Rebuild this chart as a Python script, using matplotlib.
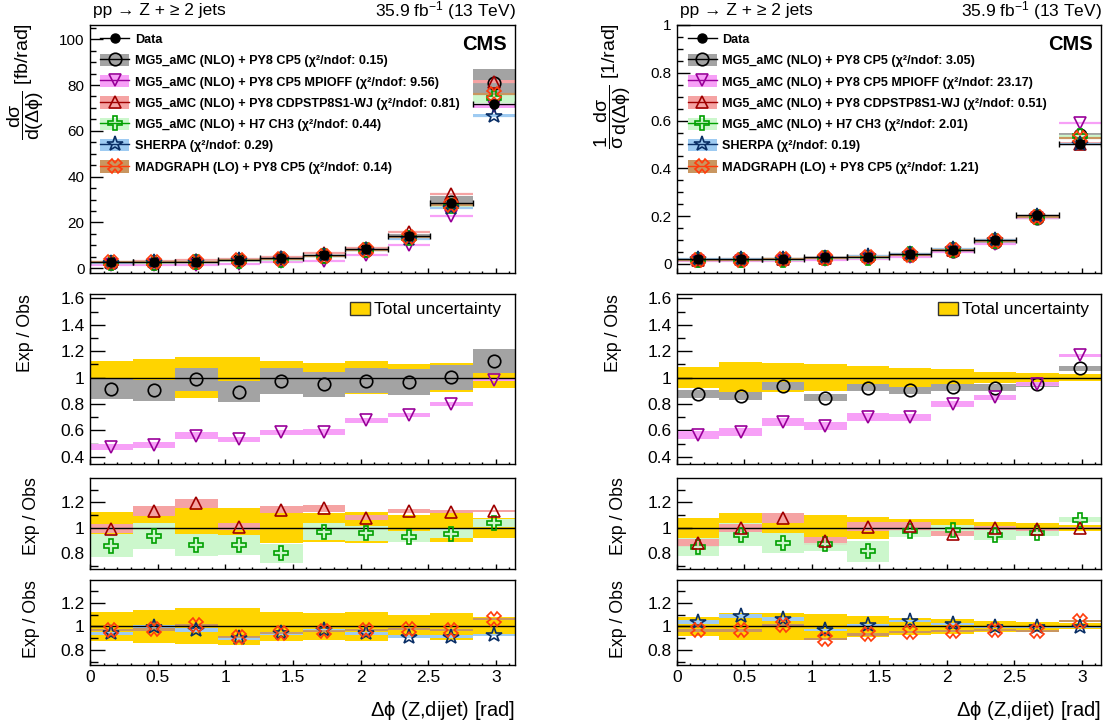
import numpy as np
import matplotlib
matplotlib.use('Agg')
import matplotlib.pyplot as plt
from matplotlib.patches import Patch
from matplotlib.lines import Line2D
from matplotlib.legend_handler import HandlerTuple
from matplotlib.ticker import MultipleLocator, FuncFormatter

plt.rcParams['font.family'] = ['Liberation Sans', 'DejaVu Sans']
plt.rcParams['mathtext.fontset'] = 'custom'
plt.rcParams['mathtext.rm'] = 'Liberation Sans'
plt.rcParams['mathtext.it'] = 'Liberation Sans:italic'
plt.rcParams['mathtext.bf'] = 'Liberation Sans:bold'
plt.rcParams['mathtext.sf'] = 'Liberation Sans'

# ---------------- data ----------------
bin_edges = np.linspace(0, np.pi, 11)

model_names = ["MG5_aMC (NLO) + PY8 CP5", "MG5_aMC (NLO) + PY8 CP5 MPIOFF",
               "MG5_aMC (NLO) + PY8 CDPSTP8S1-WJ", "MG5_aMC (NLO) + H7 CH3",
               "SHERPA", "MADGRAPH (LO) + PY8 CP5"]
chi2_left = [0.15, 9.56, 0.81, 0.44, 0.29, 0.14]
chi2_right = [3.05, 23.17, 0.51, 2.01, 0.19, 1.21]

# absolute cross section (fb/rad)
left_data = [2.6, 2.6, 2.9, 3.8, 4.4, 5.7, 8.3, 14.1, 28.7, 71.8]
left_total_unc = [0.124, 0.138, 0.153, 0.158, 0.122, 0.112, 0.124, 0.10, 0.112, 0.08]
left_mg5 = [0.915, 0.903, 0.986, 0.893, 0.973, 0.948, 0.976, 0.966, 1.001, 1.125]
left_mg5_unc = [0.074, 0.08, 0.09, 0.08, 0.096, 0.092, 0.095, 0.098, 0.093, 0.088]
left_mpioff = [0.475, 0.49, 0.56, 0.533, 0.585, 0.588, 0.675, 0.715, 0.80, 0.985]
left_mpioff_unc = [0.025, 0.025, 0.025, 0.02, 0.02, 0.02, 0.02, 0.015, 0.012, 0.01]
left_cdps = [0.993, 1.132, 1.192, 1.009, 1.142, 1.153, 1.077, 1.129, 1.127, 1.132]
left_cdps_unc = [0.035, 0.04, 0.035, 0.03, 0.03, 0.027, 0.02, 0.017, 0.013, 0.01]
left_h7 = [0.857, 0.936, 0.865, 0.865, 0.80, 0.97, 0.957, 0.93, 0.952, 1.035]
left_h7_unc = [0.09, 0.10, 0.086, 0.08, 0.075, 0.07, 0.06, 0.045, 0.035, 0.03]
left_sherpa = [0.941, 0.997, 0.969, 0.899, 0.941, 0.969, 0.941, 0.913, 0.913, 0.927]
left_sherpa_unc = [0.015, 0.015, 0.015, 0.012, 0.012, 0.012, 0.012, 0.01, 0.01, 0.008]
left_madgraph = [0.969, 0.975, 1.01, 0.907, 0.941, 0.96, 0.969, 0.975, 0.969, 1.059]
left_madgraph_unc = [0.012, 0.012, 0.012, 0.01, 0.01, 0.01, 0.01, 0.008, 0.008, 0.008]

# normalized cross section (1/rad)
right_data = [0.019, 0.019, 0.021, 0.027, 0.031, 0.041, 0.060, 0.100, 0.203, 0.504]
right_total_unc = [0.08, 0.115, 0.112, 0.102, 0.088, 0.072, 0.066, 0.045, 0.035, 0.025]
right_mg5 = [0.872, 0.857, 0.938, 0.847, 0.923, 0.903, 0.925, 0.923, 0.95, 1.069]
right_mg5_unc = [0.03, 0.03, 0.03, 0.025, 0.025, 0.025, 0.025, 0.025, 0.02, 0.02]
right_mpioff = [0.567, 0.584, 0.663, 0.635, 0.698, 0.698, 0.802, 0.85, 0.948, 1.168]
right_mpioff_unc = [0.03, 0.03, 0.03, 0.03, 0.03, 0.025, 0.022, 0.018, 0.015, 0.01]
right_cdps = [0.878, 0.998, 1.075, 0.894, 1.006, 1.012, 0.954, 1.0, 0.988, 0.999]
right_cdps_unc = [0.033, 0.033, 0.04, 0.03, 0.035, 0.035, 0.022, 0.017, 0.013, 0.01]
right_h7 = [0.85, 0.944, 0.878, 0.87, 0.813, 0.975, 0.983, 0.944, 0.962, 1.061]
right_h7_unc = [0.07, 0.09, 0.08, 0.05, 0.08, 0.05, 0.04, 0.04, 0.03, 0.02]
right_sherpa = [1.039, 1.09, 1.062, 0.969, 1.011, 1.045, 1.02, 0.992, 0.992, 0.997]
right_sherpa_unc = [0.015, 0.015, 0.015, 0.012, 0.012, 0.012, 0.012, 0.01, 0.01, 0.008]
right_madgraph = [0.965, 0.965, 1.01, 0.895, 0.932, 0.952, 0.962, 0.965, 0.958, 1.045]
right_madgraph_unc = [0.012, 0.012, 0.012, 0.01, 0.01, 0.01, 0.01, 0.008, 0.008, 0.008]

# ---------------- styles ----------------
styles = [
    dict(band='#a3a3a3', mc='black', marker='o', ms=9),
    dict(band='#f7a0f7', mc='#990099', marker='v', ms=9),
    dict(band='#f5a3a3', mc='#a00000', marker='^', ms=9),
    dict(band='#ccf7cc', mc='#00a000', marker='P', ms=9.5),
    dict(band='#9ecbf2', mc='#0a2f66', marker='*', ms=11.5),
    dict(band='#c99660', mc='#ff3d0d', marker='X', ms=9.5),
]
yellow = '#ffd400'

W, H = 1108, 724
fig = plt.figure(figsize=(W / 100, H / 100), dpi=100)


def rect(x0, x1, y0, y1):
    return [x0 / W, 1 - y1 / H, (x1 - x0) / W, (y1 - y0) / H]


cols = [(90, 515), (677, 1101)]
rows = [(25, 273.5), (294, 464), (477.5, 569), (580, 664.5)]
legend_x = [100, 687.7]
unc_legend_x = [350, 937.7]

centers = 0.5 * (bin_edges[:-1] + bin_edges[1:])
widths = np.diff(bin_edges)
fmt = FuncFormatter(lambda v, p: f'{v:g}')

columns = [
    dict(data=left_data, tot=left_total_unc, chi2=chi2_left,
         models=[(left_mg5, left_mg5_unc), (left_mpioff, left_mpioff_unc),
                 (left_cdps, left_cdps_unc), (left_h7, left_h7_unc),
                 (left_sherpa, left_sherpa_unc), (left_madgraph, left_madgraph_unc)],
         ylim=(-2.3, 106.2), major=20, minor=5,
         ylabel=r'$\dfrac{\mathrm{d\sigma}}{\mathrm{d(\Delta\phi)}}$ [fb/rad]'),
    dict(data=right_data, tot=right_total_unc, chi2=chi2_right,
         models=[(right_mg5, right_mg5_unc), (right_mpioff, right_mpioff_unc),
                 (right_cdps, right_cdps_unc), (right_h7, right_h7_unc),
                 (right_sherpa, right_sherpa_unc), (right_madgraph, right_madgraph_unc)],
         ylim=(-0.04, 1.0), major=0.2, minor=0.05,
         ylabel=r'$\dfrac{1}{\mathrm{\sigma}}\dfrac{\mathrm{d\sigma}}{\mathrm{d(\Delta\phi)}}$ [1/rad]'),
]

ratio_groups = [[0, 1], [3, 2], [4, 5]]


def style_axis(ax, ylab_size, ymaj_len, xmaj_len):
    ax.tick_params(which='both', direction='in', top=False, right=False)
    ax.tick_params(axis='y', which='major', length=ymaj_len, width=1, labelsize=ylab_size, pad=4)
    ax.tick_params(axis='y', which='minor', length=ymaj_len / 2, width=1)
    ax.tick_params(axis='x', which='major', length=xmaj_len, width=1, labelsize=12.5, pad=4)
    ax.tick_params(axis='x', which='minor', length=xmaj_len / 2, width=1)
    ax.xaxis.set_major_locator(MultipleLocator(0.5))
    ax.xaxis.set_minor_locator(MultipleLocator(0.1))
    ax.xaxis.set_major_formatter(fmt)
    ax.yaxis.set_major_formatter(fmt)
    ax.set_xlim(0, np.pi)
    for s in ax.spines.values():
        s.set_linewidth(1.0)


for ci, col in enumerate(columns):
    x0, x1 = cols[ci]
    axw = x1 - x0
    data = np.array(col['data'])
    # ---------- top panel ----------
    ax = fig.add_axes(rect(x0, x1, *rows[0]))
    for mi, (r, u) in enumerate(col['models']):
        r = np.array(r); u = np.array(u); st = styles[mi]
        ax.bar(centers, 2 * u * data, bottom=(r - u) * data, width=widths,
               color=st['band'], linewidth=0, zorder=2)
        ax.hlines(r * data, bin_edges[:-1], bin_edges[1:], color=st['band'], lw=1.6, zorder=2.5)
    for mi, (r, u) in enumerate(col['models']):
        st = styles[mi]
        ax.plot(centers, np.array(r) * data, ls='none', marker=st['marker'], ms=st['ms'],
                mfc='none', mec=st['mc'], mew=1.2, zorder=3)
    ax.errorbar(centers, data, xerr=widths / 2, fmt='o', color='black', ms=6.5,
                elinewidth=1, capsize=2, capthick=1, zorder=5)
    ax.set_ylim(*col['ylim'])
    ax.yaxis.set_major_locator(MultipleLocator(col['major']))
    ax.yaxis.set_minor_locator(MultipleLocator(col['minor']))
    style_axis(ax, 11, 9, 3.6)
    ax.tick_params(axis='x', labelbottom=False)

    handles = [Line2D([], [], color='black', marker='o', ms=6.5, lw=1)]
    labels = ['Data']
    for mi, name in enumerate(model_names):
        st = styles[mi]
        handles.append((Patch(facecolor=st['band'], edgecolor='none'),
                        Line2D([], [], color=st['mc'], lw=1, marker=st['marker'], ms=st['ms'],
                               mfc='none', mec=st['mc'], mew=1.2)))
        labels.append(f"{name} (χ²/ndof: {col['chi2'][mi]:.2f})")
    axh = rows[0][1] - rows[0][0]
    ax.legend(handles, labels, loc='upper left',
              bbox_to_anchor=((legend_x[ci] - x0) / axw, 1 - (32.5 - rows[0][0]) / axh),
              frameon=False, borderpad=0, borderaxespad=0,
              prop=dict(weight='bold', size=9.1),
              handlelength=2.3, handleheight=1.1, labelspacing=0.63, handletextpad=0.45,
              handler_map={tuple: HandlerTuple(ndivide=1, pad=0)})
    ax.text(0.98, 0.92, 'CMS', transform=ax.transAxes, ha='right', va='center',
            fontsize=14.5, fontweight='bold')
    fig.text((x0 + 3) / W, 1 - 11 / H, 'pp → Z + ≥ 2 jets', ha='left', va='center', fontsize=12.5)
    fig.text((x1 + 1) / W, 1 - 11 / H, '35.9 fb$^{-1}$ (13 TeV)', ha='right', va='center', fontsize=12.5)
    fig.text((x0 - 64) / W, 1 - 23 / H, col['ylabel'], rotation=90, ha='center', va='top', fontsize=14)

    # ---------- ratio panels ----------
    for ri, group in enumerate(ratio_groups):
        rax = fig.add_axes(rect(x0, x1, *rows[ri + 1]))
        tot = np.array(col['tot'])
        rax.bar(centers, 2 * tot, bottom=1 - tot, width=widths, color=yellow, linewidth=0, zorder=1)
        for mi in group:
            r, u = col['models'][mi]
            r = np.array(r); u = np.array(u); st = styles[mi]
            rax.bar(centers, 2 * u, bottom=r - u, width=widths, color=st['band'], linewidth=0, zorder=2)
            rax.hlines(r, bin_edges[:-1], bin_edges[1:], color=st['band'], lw=1.2, zorder=2.5)
        rax.axhline(1.0, color='black', lw=1, zorder=3)
        for mi in group:
            r, u = col['models'][mi]
            st = styles[mi]
            rax.plot(centers, r, ls='none', marker=st['marker'], ms=st['ms'], mfc='none',
                     mec=st['mc'], mew=1.2, zorder=4)
        if ri == 0:
            rax.set_ylim(0.345, 1.633)
        else:
            rax.set_ylim(0.675, 1.395)
        rax.yaxis.set_major_locator(MultipleLocator(0.2))
        rax.yaxis.set_minor_locator(MultipleLocator(0.1))
        style_axis(rax, 12.5, 11, 3.6)
        if ri < 2:
            rax.tick_params(axis='x', labelbottom=False)
        ylx = x0 - 64 if ri == 0 else x0 - 58
        fig.text(ylx / W, 1 - rows[ri + 1][0] / H, 'Exp / Obs', rotation=90,
                 ha='center', va='top', fontsize=12.8)
        if ri == 0:
            rh = rows[1][1] - rows[1][0]
            rax.legend([Patch(facecolor=yellow, edgecolor='#333333', lw=1)], ['Total uncertainty'],
                       loc='upper left',
                       bbox_to_anchor=((unc_legend_x[ci] - x0) / axw, 1 - (301.5 - rows[1][0]) / rh),
                       frameon=False, borderpad=0, borderaxespad=0, fontsize=12.5,
                       handlelength=1.15, handleheight=0.86, handletextpad=0.25)
    fig.text(x1 / W, 1 - 711 / H, r'$\mathrm{\Delta\phi}$ (Z,dijet) [rad]', ha='right', va='center',
             fontsize=14.5)

fig.savefig('out.png', dpi=100)
